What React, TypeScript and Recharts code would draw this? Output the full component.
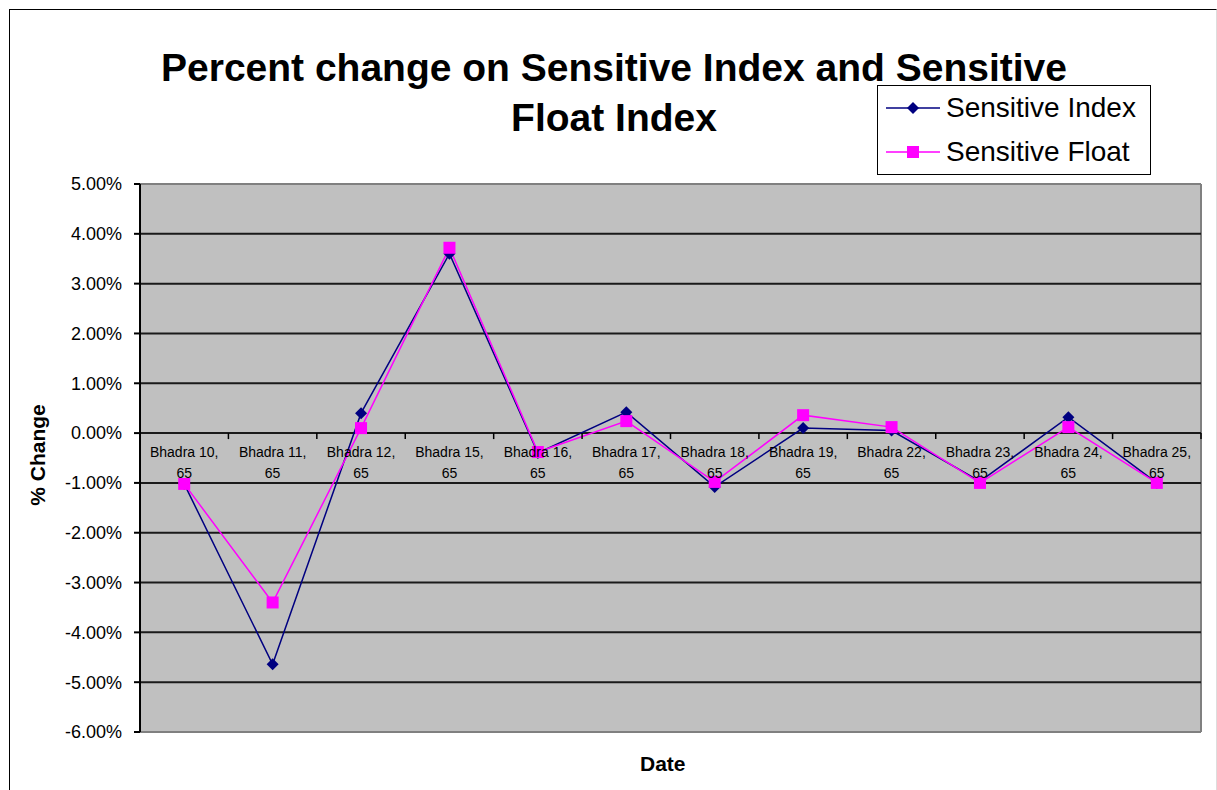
import { LineChart, Line, XAxis, YAxis, Legend, ReferenceLine, CartesianGrid } from 'recharts';

const CATEGORIES = [
  'Bhadra 10, 65', 'Bhadra 11, 65', 'Bhadra 12, 65', 'Bhadra 15, 65',
  'Bhadra 16, 65', 'Bhadra 17, 65', 'Bhadra 18, 65', 'Bhadra 19, 65',
  'Bhadra 22, 65', 'Bhadra 23, 65', 'Bhadra 24, 65', 'Bhadra 25, 65',
];
// percent values
const SENSITIVE_INDEX = [-1.02, -4.64, 0.4, 3.6, -0.4, 0.42, -1.08, 0.1, 0.05, -0.97, 0.32, -1.0];
const SENSITIVE_FLOAT = [-1.02, -3.4, 0.1, 3.72, -0.38, 0.24, -0.98, 0.36, 0.12, -1.0, 0.12, -1.0];
const Y_TICKS = [5, 4, 3, 2, 1, 0, -1, -2, -3, -4, -5, -6];
const GRID_VALUES = [4, 3, 2, 1, 0, -1, -2, -3, -4, -5];
const SERIES_ORDER = ['index', 'float'];

const FONT = 'Liberation Sans, Arial, sans-serif';
const W = 1217;
const H = 790;
const M = { top: 184, right: 16, left: 40, bottom: 57 };
const Y_AXIS_W = 100;
const PLOT_W = W - M.left - M.right - Y_AXIS_W;
const PLOT_H = H - M.top - M.bottom - 1;
const Y_MAX = Y_TICKS[0];
const Y_MIN = Y_TICKS[Y_TICKS.length - 1];
// category axis crosses the value axis at 0
const ZERO_Y = M.top + (PLOT_H * Y_MAX) / (Y_MAX - Y_MIN);
const BAND = PLOT_W / CATEGORIES.length;

const data = CATEGORIES.map((date, i) => ({
  date,
  index: SENSITIVE_INDEX[i],
  float: SENSITIVE_FLOAT[i],
}));

function CategoryTick(props: any) {
  const { x, payload } = props;
  const label: string = payload.value;
  const cut = label.lastIndexOf(' ');
  return (
    <g>
      <line x1={x + BAND / 2} x2={x + BAND / 2} y1={ZERO_Y} y2={ZERO_Y + 6} stroke="#000" strokeWidth={1.5} />
      <text x={x} y={ZERO_Y + 24} textAnchor="middle" fontSize={14} fontFamily={FONT} fill="#000">
        {label.slice(0, cut)}
      </text>
      <text x={x} y={ZERO_Y + 45} textAnchor="middle" fontSize={14} fontFamily={FONT} fill="#000">
        {label.slice(cut + 1)}
      </text>
    </g>
  );
}

function Diamond(props: any) {
  const { cx, cy } = props;
  if (cx == null || cy == null) return null;
  const r = 6;
  return <path d={`M${cx},${cy - r}L${cx + r},${cy}L${cx},${cy + r}L${cx - r},${cy}Z`} fill="#000080" stroke="none" />;
}

function Square(props: any) {
  const { cx, cy } = props;
  if (cx == null || cy == null) return null;
  const s = 6;
  return <rect x={cx - s} y={cy - s} width={s * 2} height={s * 2} fill="#FF00FF" stroke="none" />;
}

function LegendBox({ payload }: any) {
  const items = [...(payload || [])].sort(
    (a: any, b: any) => SERIES_ORDER.indexOf(a.dataKey) - SERIES_ORDER.indexOf(b.dataKey),
  );
  return (
    <div style={{ border: '1.5px solid #000', background: '#fff', width: 274, height: 90, boxSizing: 'border-box', padding: '0 0 0 8px', fontFamily: FONT }}>
      {items.map((it: any) => {
        const isIndex = it.dataKey === 'index';
        return (
          <div key={it.dataKey} style={{ display: 'flex', alignItems: 'center', height: 44 }}>
            <svg width={54} height={16} style={{ marginRight: 6, flex: 'none' }}>
              <line x1={0} x2={54} y1={8} y2={8} stroke={it.color} strokeWidth={1.5} />
              {isIndex ? (
                <path d="M27,2L33,8L27,14L21,8Z" fill="#000080" />
              ) : (
                <rect x={21} y={2} width={12} height={12} fill="#FF00FF" />
              )}
            </svg>
            <span style={{ fontSize: 28, color: '#000', whiteSpace: 'nowrap' }}>{it.value}</span>
          </div>
        );
      })}
    </div>
  );
}

export default function App() {
  return (
    <div style={{ position: 'absolute', left: 0, top: 0, width: W, height: H, background: '#fff', overflow: 'hidden', fontFamily: FONT }}>
      <div style={{ position: 'absolute', left: 9, top: 9, width: 1206, height: 800, borderLeft: '1.5px solid #000', borderTop: '1.5px solid #000', borderRight: '1.5px solid #ddd' }} />
      <div style={{ position: 'absolute', left: 0, width: 1228, top: 43, textAlign: 'center', fontSize: 39, fontWeight: 'bold', lineHeight: '50px', color: '#000' }}>
        Percent change on Sensitive Index and Sensitive
        <br />
        Float Index
      </div>
      <div style={{ position: 'absolute', left: 640, top: 752, fontSize: 21, fontWeight: 'bold', color: '#000' }}>Date</div>
      <div style={{ position: 'absolute', left: 38, top: 455, transform: 'translate(-50%, -50%) rotate(-90deg)', fontSize: 21, fontWeight: 'bold', whiteSpace: 'nowrap', color: '#000' }}>
        % Change
      </div>
      <div style={{ position: 'absolute', left: 0, top: 0 }}>
        <LineChart width={W} height={H} data={data} margin={M}>
          <CartesianGrid
            fill="#C0C0C0"
            fillOpacity={1}
            stroke="#808080"
            strokeWidth={2}
            horizontalCoordinatesGenerator={({ offset }: any) => [offset.top, offset.top + offset.height]}
            verticalCoordinatesGenerator={({ offset }: any) => [offset.left + offset.width]}
          />
          {GRID_VALUES.map((v) => (
            <ReferenceLine key={v} y={v} stroke="#1a1a1a" strokeWidth={2} />
          ))}
          <XAxis
            dataKey="date"
            height={1}
            axisLine={false}
            tickLine={false}
            interval={0}
            padding={{ left: BAND / 2, right: BAND / 2 }}
            tick={<CategoryTick />}
          />
          <YAxis
            width={Y_AXIS_W}
            domain={[Y_MIN, Y_MAX]}
            ticks={Y_TICKS}
            type="number"
            axisLine={{ stroke: '#000', strokeWidth: 2 }}
            tickLine={{ stroke: '#000', strokeWidth: 2 }}
            tickSize={6}
            tickMargin={12}
            tick={{ fill: '#000', fontSize: 18, fontFamily: FONT }}
            tickFormatter={(v: number) => `${v.toFixed(2)}%`}
            allowDataOverflow
          />
          <Legend
            layout="horizontal"
            verticalAlign="middle"
            align="center"
            wrapperStyle={{ left: 877, top: 85, width: 274, height: 90 }}
            content={<LegendBox />}
          />
          <Line
            dataKey="index"
            name="Sensitive Index"
            stroke="#000080"
            strokeWidth={1.5}
            dot={<Diamond />}
            activeDot={false}
            isAnimationActive={false}
          />
          <Line
            dataKey="float"
            name="Sensitive Float"
            stroke="#FF00FF"
            strokeWidth={1.5}
            dot={<Square />}
            activeDot={false}
            isAnimationActive={false}
          />
        </LineChart>
      </div>
    </div>
  );
}
